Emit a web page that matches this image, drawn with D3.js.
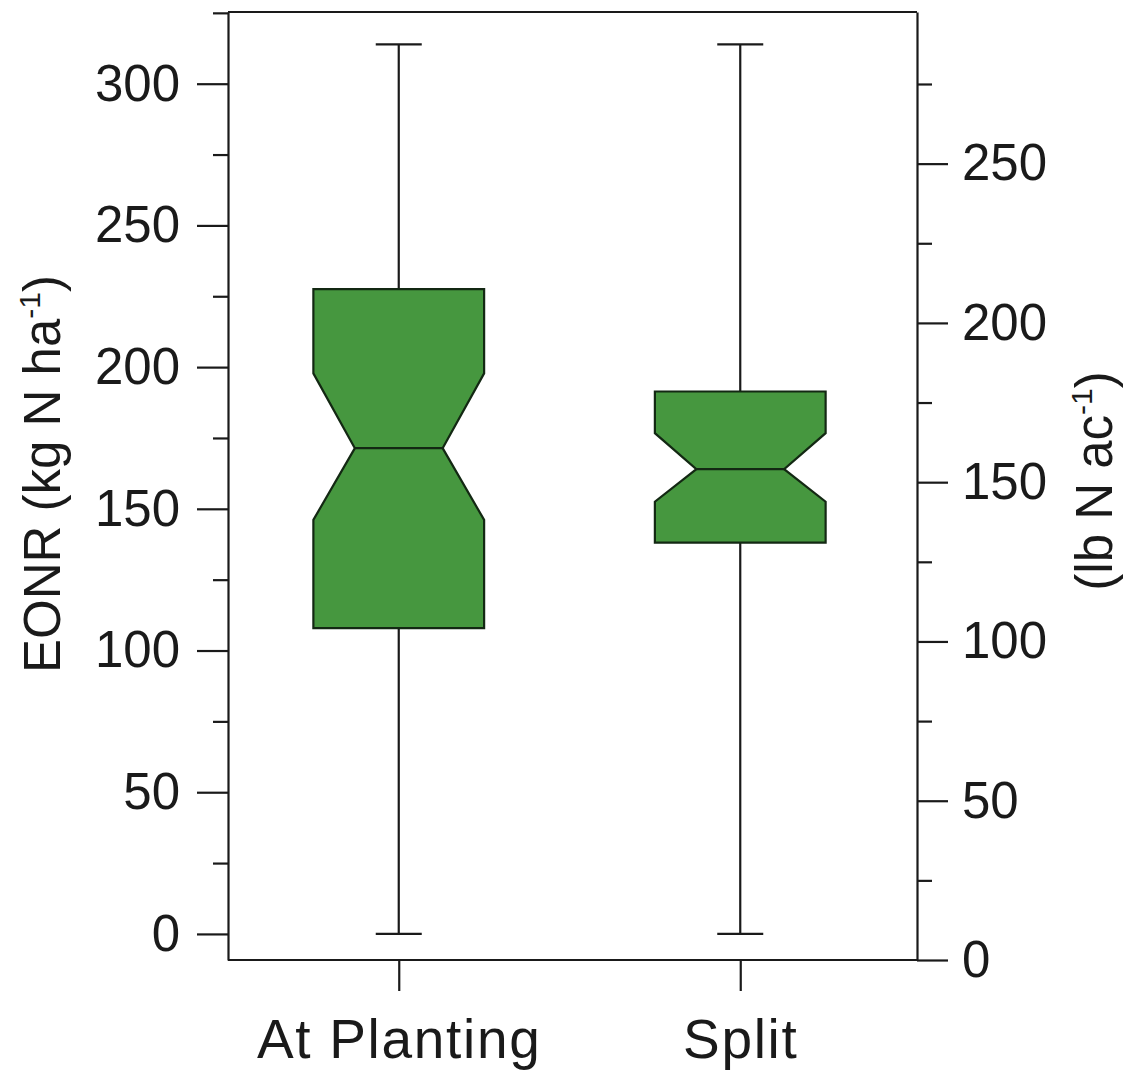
<!DOCTYPE html>
<html>
<head>
<meta charset="utf-8">
<script src="https://cdn.jsdelivr.net/npm/d3@7"></script>
<style>
  html, body { margin: 0; padding: 0; background: #fff; }
  svg { display: block; }
  text { font-family: "Liberation Sans", Arial, Helvetica, sans-serif; fill: #1a1a1a; }
</style>
</head>
<body>
<svg id="chart" width="1124" height="1071"></svg>
<script>
// ---- data ----
const categories   = ["At Planting", "Split"];
const whiskerLow   = [0, 0];
const q1           = [107.9, 138.1];
const notchLow     = [146.1, 152.5];
const median       = [171.4, 164.0];
const notchHigh    = [197.8, 176.7];
const q3           = [227.5, 191.4];
const whiskerHigh  = [313.9, 313.9];

const leftMajorTicks  = [0, 50, 100, 150, 200, 250, 300];
const leftMinorTicks  = [25, 75, 125, 175, 225, 275, 325];
const rightMajorTicks = [0, 50, 100, 150, 200, 250];
const rightMinorTicks = [25, 75, 125, 175, 225, 275];

const leftTitle  = "EONR (kg N ha";
const rightTitle = "(lb N ac";
const superscript = "-1";

// ---- layout ----
const plotL = 228, plotR = 917, plotT = 12, plotB = 960;
const ink = "#1a1a1a";
const boxFill = "#46973f";
const boxStroke = "#132813";
const sw = 2.2;

const svg = d3.select("#chart");

const yL = d3.scaleLinear().domain([-9.2, 325.3]).range([plotB, plotT]);
const yR = d3.scaleLinear().domain([0, 297.6]).range([plotB, plotT]);
const x = d3.scalePoint().domain(categories).range([plotL, 911]).padding(0.5);

const boxW = x.step() * 0.5;
const inset = boxW * 0.243;
const capW = 46;

// frame top and bottom lines
svg.append("line").attr("x1", plotL).attr("x2", plotR).attr("y1", plotT).attr("y2", plotT)
  .attr("stroke", ink).attr("stroke-width", sw);
svg.append("line").attr("x1", plotL).attr("x2", plotR).attr("y1", plotB).attr("y2", plotB)
  .attr("stroke", ink).attr("stroke-width", sw);

function styleAxis(g) {
  g.selectAll("path.domain").attr("stroke", ink).attr("stroke-width", sw);
  g.selectAll(".tick line").attr("stroke", ink).attr("stroke-width", sw);
  g.selectAll(".tick text").attr("font-size", 51).attr("fill", ink)
    .style("font-family", '"Liberation Sans", Arial, sans-serif');
}

// left axis
const gL = svg.append("g").attr("transform", `translate(${plotL},0)`)
  .call(d3.axisLeft(yL).tickValues(leftMajorTicks).tickSize(31).tickSizeOuter(0).tickPadding(17));
styleAxis(gL);
const gLm = svg.append("g").attr("transform", `translate(${plotL},0)`)
  .call(d3.axisLeft(yL).tickValues(leftMinorTicks).tickSize(15).tickSizeOuter(0).tickFormat(""));
styleAxis(gLm);
gLm.select("path.domain").remove();

// right axis
const gR = svg.append("g").attr("transform", `translate(${plotR},0)`)
  .call(d3.axisRight(yR).tickValues(rightMajorTicks).tickSize(31).tickSizeOuter(0).tickPadding(14));
styleAxis(gR);
const gRm = svg.append("g").attr("transform", `translate(${plotR},0)`)
  .call(d3.axisRight(yR).tickValues(rightMinorTicks).tickSize(15).tickSizeOuter(0).tickFormat(""));
styleAxis(gRm);
gRm.select("path.domain").remove();

// bottom axis
const gB = svg.append("g").attr("transform", `translate(0,${plotB})`)
  .call(d3.axisBottom(x).tickSize(31).tickSizeOuter(0).tickPadding(28));
styleAxis(gB);
gB.select("path.domain").remove();
gB.selectAll(".tick text").attr("font-size", 55).attr("letter-spacing", "1.7px");

// boxes
const data = categories.map((c, i) => ({
  c, lo: whiskerLow[i], q1: q1[i], nl: notchLow[i], med: median[i],
  nh: notchHigh[i], q3: q3[i], hi: whiskerHigh[i]
}));

const boxes = svg.append("g").selectAll("g").data(data).join("g");

// whiskers
boxes.append("line")
  .attr("x1", d => x(d.c)).attr("x2", d => x(d.c))
  .attr("y1", d => yL(d.q3)).attr("y2", d => yL(d.hi))
  .attr("stroke", ink).attr("stroke-width", sw);
boxes.append("line")
  .attr("x1", d => x(d.c)).attr("x2", d => x(d.c))
  .attr("y1", d => yL(d.q1)).attr("y2", d => yL(d.lo))
  .attr("stroke", ink).attr("stroke-width", sw);
boxes.append("line")
  .attr("x1", d => x(d.c) - capW / 2).attr("x2", d => x(d.c) + capW / 2)
  .attr("y1", d => yL(d.hi)).attr("y2", d => yL(d.hi))
  .attr("stroke", ink).attr("stroke-width", sw);
boxes.append("line")
  .attr("x1", d => x(d.c) - capW / 2).attr("x2", d => x(d.c) + capW / 2)
  .attr("y1", d => yL(d.lo)).attr("y2", d => yL(d.lo))
  .attr("stroke", ink).attr("stroke-width", sw);

// notched box
boxes.append("path")
  .attr("d", d => {
    const L = x(d.c) - boxW / 2, R = x(d.c) + boxW / 2;
    const pts = [
      [L, yL(d.q3)], [R, yL(d.q3)], [R, yL(d.nh)], [R - inset, yL(d.med)],
      [R, yL(d.nl)], [R, yL(d.q1)], [L, yL(d.q1)], [L, yL(d.nl)],
      [L + inset, yL(d.med)], [L, yL(d.nh)]
    ];
    return d3.line()(pts) + "Z";
  })
  .attr("fill", boxFill).attr("stroke", boxStroke).attr("stroke-width", sw)
  .attr("stroke-linejoin", "miter");

// median line
boxes.append("line")
  .attr("x1", d => x(d.c) - boxW / 2 + inset).attr("x2", d => x(d.c) + boxW / 2 - inset)
  .attr("y1", d => yL(d.med)).attr("y2", d => yL(d.med))
  .attr("stroke", boxStroke).attr("stroke-width", sw);

// axis titles
const tL = svg.append("text")
  .attr("transform", "translate(60,474) rotate(-90)")
  .attr("text-anchor", "middle").attr("font-size", 51);
tL.append("tspan").text(leftTitle);
tL.append("tspan").attr("font-size", 30).attr("dy", -20).text(superscript);
tL.append("tspan").attr("dy", 20).text(")");

const tR = svg.append("text")
  .attr("transform", "translate(1112,481) rotate(-90)")
  .attr("text-anchor", "middle").attr("font-size", 51);
tR.append("tspan").text(rightTitle);
tR.append("tspan").attr("font-size", 30).attr("dy", -20).text(superscript);
tR.append("tspan").attr("dy", 20).text(")");
</script>
</body>
</html>
